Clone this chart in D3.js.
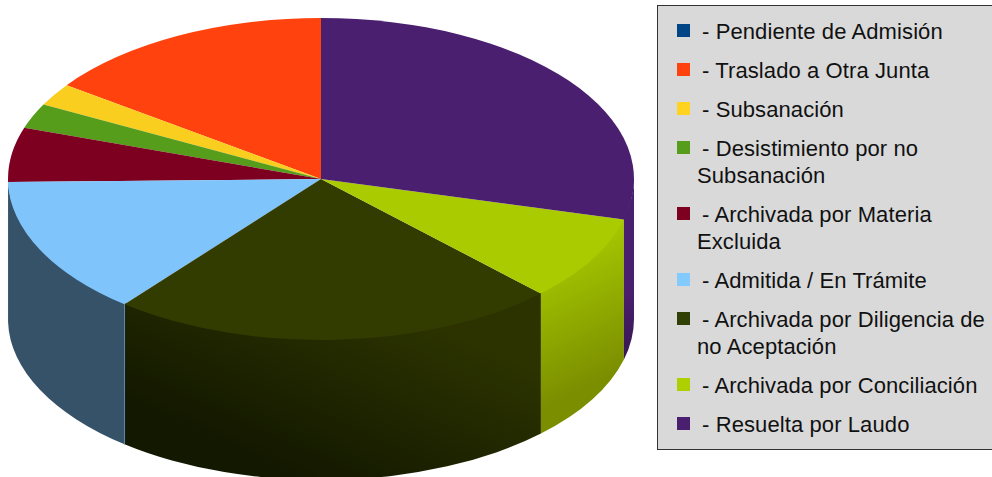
<!DOCTYPE html>
<html>
<head>
<meta charset="utf-8">
<script src="https://cdnjs.cloudflare.com/ajax/libs/d3/7.8.5/d3.min.js"></script>
<style>
	html, body { margin: 0; padding: 0; background: #fff; }
	svg { display: block; }
	.legend text { font-family: "Liberation Sans", Arial, sans-serif; font-size: 22px; letter-spacing: 0.1px; fill: #111; }
</style>
</head>
<body>
<svg id="chart" width="992" height="477"></svg>
<script>
// legend order, which is also the order of the slices going counter-clockwise from 12 o'clock
var categories = [
	['Pendiente de Admisión'],
	['Traslado a Otra Junta'],
	['Subsanación'],
	['Desistimiento por no', 'Subsanación'],
	['Archivada por Materia', 'Excluida'],
	['Admitida / En Trámite'],
	['Archivada por Diligencia de', 'no Aceptación'],
	['Archivada por Conciliación'],
	['Resuelta por Laudo']
];
// estimated share of each slice
var values = [0, 15.1, 2.25, 2.5, 5.45, 13.9, 23.2, 8.55, 29.05];
var colors = ['#004586', '#ff420e', '#f9ce1f', '#579d1c', '#7e0021', '#7fc4fb', '#333c00', '#a9cb00', '#4b1f6f'];
var legendColors = ['#004586', '#ff420e', '#ffd320', '#579d1c', '#7e0021', '#83caff', '#314004', '#aecf00', '#4b1f6f'];
var wallStart = [null, null, null, null, null, '#355269', '#131800', '#a6c800', '#4b1f6f'];
var wallEnd = [null, null, null, null, null, '#355269', '#2c3300', '#7b8e00', '#361852'];

var cx = 321, cy = 179, rx = 313, ry = 161, depth = 140;

// gradient direction of each visible wall, [x1, y1, x2, y2]
var wallVectors = {
	5: [0, 300, 0, 450],
	6: [300, 477, 380, 300],
	7: [560, 250, 620, 370],
	8: [630, 290, 630, 360]
};

var svg = d3.select('#chart');
var defs = svg.append('defs');

var pie = d3.pie().sort(null).value(function(d) { return d; })
	.startAngle(2 * Math.PI).endAngle(0);
var slices = pie(values);
var arc = d3.arc().innerRadius(0).outerRadius(rx);

function rim(a, dy) {
	return [cx + rx * Math.sin(a), cy - ry * Math.cos(a) + (dy || 0)];
}

// starts a little above the rim so the top surface hides the seam
function wallPath(from, to) {
	var p0 = rim(from, -1.5), p1 = rim(to, -1.5), p2 = rim(to, depth), p3 = rim(from, depth);
	return 'M' + p0 + ' A' + rx + ' ' + ry + ' 0 0 1 ' + p1
		+ ' L' + p2 + ' A' + rx + ' ' + ry + ' 0 0 0 ' + p3 + ' Z';
}

function drawWalls() {
	var walls = svg.append('g').classed('walls', true);
	slices.forEach(function(s, i) {
		var from = Math.max(s.endAngle, Math.PI / 2);
		var to = Math.min(s.startAngle, 3 * Math.PI / 2);
		var v = wallVectors[i];
		// the maroon slice only dips under the edge by a sliver, nothing to see there
		if (to <= from || !v) return;
		var grad = defs.append('linearGradient')
			.attr('id', 'wall-' + i)
			.attr('gradientUnits', 'userSpaceOnUse')
			.attr('x1', v[0]).attr('y1', v[1])
			.attr('x2', v[2]).attr('y2', v[3]);
		grad.append('stop').attr('offset', 0).attr('stop-color', wallStart[i]);
		grad.append('stop').attr('offset', 1).attr('stop-color', wallEnd[i]);
		walls.append('path')
			.attr('d', wallPath(from, to))
			.attr('fill', 'url(#wall-' + i + ')');
	});
	// light seam where the blue wall ends
	var seam = rim(slices[5].endAngle);
	walls.append('line')
		.attr('x1', seam[0]).attr('y1', seam[1])
		.attr('x2', seam[0]).attr('y2', seam[1] + depth)
		.attr('stroke', '#5a8ab0').attr('stroke-width', 1);
}
drawWalls();

function drawTop() {
	svg.append('g')
		.attr('transform', 'translate(' + cx + ',' + cy + ') scale(1,' + (ry / rx) + ')')
		.selectAll('path').data(slices).enter().append('path')
			.attr('d', arc)
			.attr('fill', function(d, i) { return colors[i]; });
}
drawTop();

function drawLegend() {
	var legend = svg.append('g').classed('legend', true);
	legend.append('rect')
		.attr('x', 657.5).attr('y', 5.5)
		.attr('width', 340).attr('height', 444)
		.attr('fill', '#d9d9d9')
		.attr('stroke', '#333').attr('stroke-width', 1);
	var y = 39;
	categories.forEach(function(lines, i) {
		legend.append('rect')
			.attr('x', 677).attr('y', y - 15)
			.attr('width', 13).attr('height', 13)
			.attr('fill', legendColors[i]);
		lines.forEach(function(line, j) {
			legend.append('text')
				.attr('x', j === 0 ? 702 : 697)
				.attr('y', y)
				.text(j === 0 ? '- ' + line : line);
			if (j < lines.length - 1) y += 27;
		});
		y += 39;
	});
}
drawLegend();
</script>
</body>
</html>
